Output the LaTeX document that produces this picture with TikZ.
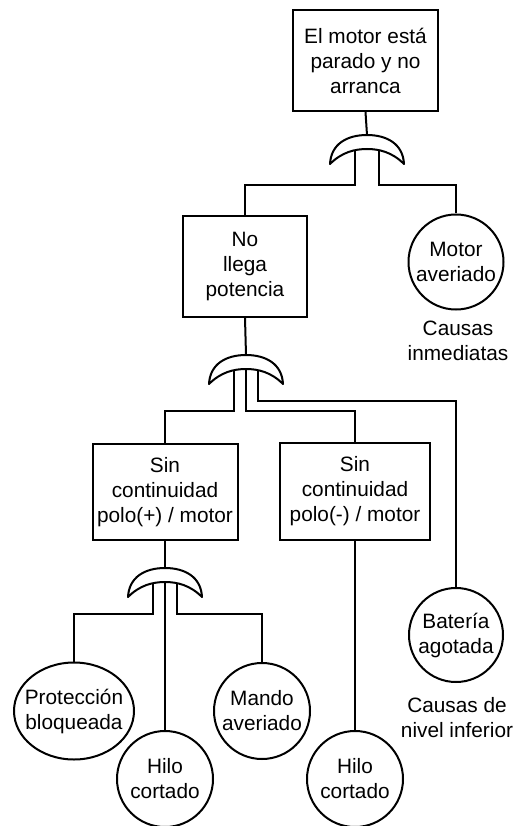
\documentclass[tikz,border=0pt]{standalone}
\usepackage{fontspec}
\setmainfont{Liberation Sans}
\usetikzlibrary{shapes.geometric, positioning, calc}
\tikzset{
    eventbox/.style={
        rectangle,
        draw,
        line width=2pt,
        align=center,
        inner sep=2pt,
        font=\fontsize{20.8}{25}\selectfont
    },
    basicev/.style={
        ellipse,
        draw,
        line width=2pt,
        align=center,
        inner sep=-12pt,
        minimum width=96pt,
        minimum height=96pt,
        font=\fontsize{20.8}{25}\selectfont
    },
    levelnote/.style={
        align=center,
        font=\fontsize{20.8}{25}\selectfont
    },
    wire/.style={
        line width=2pt
    },
    gateline/.style={
        line width=2pt,
        line join=round
    }
}
% OR gate: name, centre x, top y
\newcommand{\orgate}[3]{%
    \draw[gateline] (#2-37,#3+29) .. controls (#2-36,#3+9) and (#2-20,#3) .. (#2,#3)
        .. controls (#2+20,#3) and (#2+36,#3+9) .. (#2+37,#3+29)
        .. controls (#2+25,#3+17) and (#2+12,#3+14) .. (#2,#3+14)
        .. controls (#2-12,#3+14) and (#2-25,#3+17) .. cycle;
    \coordinate (#1-out) at (#2,#3);
    \coordinate (#1-l) at (#2-12,#3+15);
    \coordinate (#1-m) at (#2,#3+14);
    \coordinate (#1-r) at (#2+12,#3+15);
}

\begin{document}
\begin{tikzpicture}[x=1pt, y=-1pt]
    \useasboundingbox (0,0) rectangle (531,826);

    \node[eventbox, minimum width=145pt, minimum height=101pt] (fallo) at (365.5,60.5) {El motor está\\parado y no\\arranca};
    \node[eventbox, minimum width=124pt, minimum height=101pt] (pot) at (245,266.5) {No\\llega\\potencia};
    \node[basicev, minimum width=95pt, minimum height=95pt] (motor) at (456,262) {Motor\\averiado};
    \node[levelnote] (inmed) at (458,341) {Causas\\inmediatas};

    \node[eventbox, minimum width=145pt, minimum height=96pt] (polpos) at (165,492) {Sin\\continuidad\\polo(+) / motor};
    \node[eventbox, minimum width=150pt, minimum height=97pt] (polneg) at (355,491.5) {Sin\\continuidad\\polo(-) / motor};
    \node[basicev, minimum width=94pt, minimum height=94pt] (bat) at (456,635) {Batería\\agotada};
    \node[levelnote] (inferior) at (457,718) {Causas de\\nivel inferior};

    \node[basicev, minimum width=120pt, minimum height=97pt] (prot) at (74,711) {Protección\\bloqueada};
    \node[basicev] (hilo1) at (165,779) {Hilo\\cortado};
    \node[basicev] (mando) at (262,711) {Mando\\averiado};
    \node[basicev] (hilo2) at (355,779) {Hilo\\cortado};

    \orgate{g1}{367}{135}
    \orgate{g2}{246}{355}
    \orgate{g3}{165}{568}

    \draw[wire] (fallo.south) -- (g1-out);
    \draw[wire] (g1-l) -- ++(0,35) -| (pot.north);
    \draw[wire] (g1-r) -- ++(0,35) -| (motor.north);

    \draw[wire] (pot.south) -- (g2-out);
    \draw[wire] (g2-l) -- ++(0,41) -| (polpos.north);
    \draw[wire] (g2-m) -- ++(0,42) -| (polneg.north);
    \draw[wire] (g2-r) -- ++(0,31) -| (bat.north);

    \draw[wire] (polpos.south) -- (g3-out);
    \draw[wire] (g3-l) -- ++(0,31) -| (prot.north);
    \draw[wire] (g3-m) -- (hilo1.north);
    \draw[wire] (g3-r) -- ++(0,31) -| (mando.north);
    \draw[wire] (polneg.south) -- (hilo2.north);
\end{tikzpicture}
\end{document}
